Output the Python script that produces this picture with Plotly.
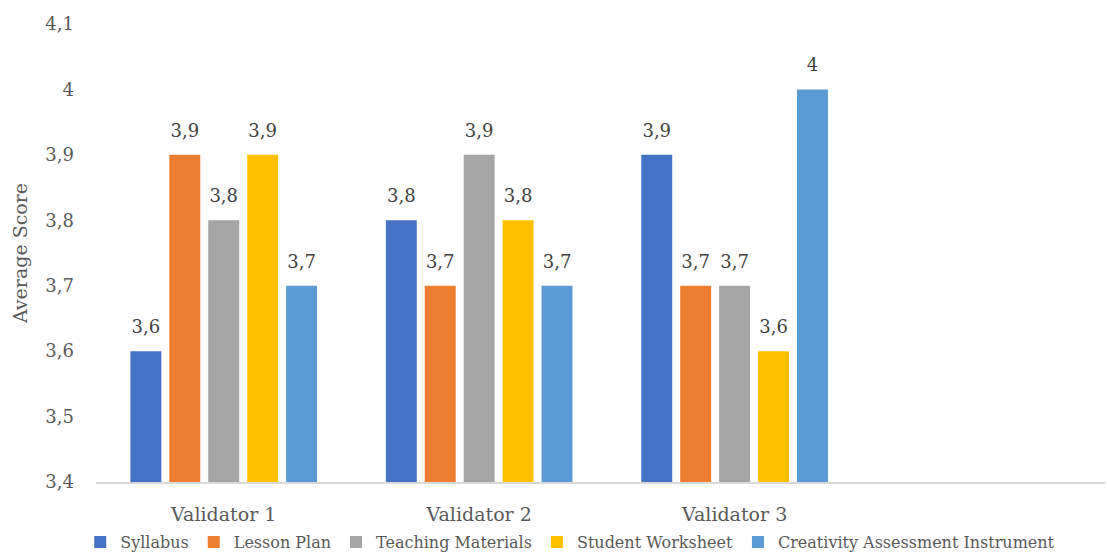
import plotly.graph_objects as go

categories = ["Validator 1", "Validator 2", "Validator 3"]
series_names = ["Syllabus", "Lesson Plan", "Teaching Materials", "Student Worksheet",
                "Creativity Assessment Instrument"]
syllabus = [3.6, 3.8, 3.9]
lesson_plan = [3.9, 3.7, 3.7]
teaching_materials = [3.8, 3.9, 3.7]
student_worksheet = [3.9, 3.8, 3.6]
creativity_instrument = [3.7, 3.7, 4.0]
colors = ["#4472C4", "#ED7D31", "#A5A5A5", "#FFC000", "#5B9BD5"]
y_ticks = [3.4, 3.5, 3.6, 3.7, 3.8, 3.9, 4.0, 4.1]

FONT = "Palatino Linotype, Book Antiqua, Palatino, DejaVu Serif"

fig = go.Figure()
for name, vals, c in zip(series_names,
                         [syllabus, lesson_plan, teaching_materials, student_worksheet, creativity_instrument],
                         colors):
    fig.add_trace(go.Bar(
        x=categories, y=vals, name=name, marker=dict(color=c, line=dict(width=0)),
        texttemplate="<span style='font-size:18px'>%{y}</span><br> ",
        textposition="outside", cliponaxis=False,
        textfont=dict(family=FONT, size=10, color="#404040"),
    ))

fig.update_layout(
    width=1107, height=559,
    margin=dict(l=96, r=2, t=24, b=77, autoexpand=False),
    paper_bgcolor="white", plot_bgcolor="white",
    barmode="group", bargap=0.238, bargroupgap=0.205,
    separators=", ",
    font=dict(family=FONT, size=18, color="#595959"),
    showlegend=True,
    legend=dict(orientation="h", x=0.47, xanchor="center", yref="container", y=-0.009,
                yanchor="bottom", bgcolor="rgba(0,0,0,0)",
                font=dict(family=FONT, size=16, color="#595959"),
                itemwidth=30, tracegroupgap=0, traceorder="normal"),
)
fig.update_xaxes(
    type="category", categoryorder="array", categoryarray=categories,
    range=[-0.5, 3.45], showline=True, linecolor="#D9D9D9", linewidth=1.5,
    ticks="", showgrid=False, ticklabelstandoff=14, automargin=False,
    tickfont=dict(family=FONT, size=19, color="#595959"),
)
fig.update_yaxes(
    range=[3.4, 4.1], tickvals=y_ticks, showgrid=False, zeroline=False, showline=False,
    ticks="", ticklabelstandoff=21, automargin=False,
    tickfont=dict(family=FONT, size=18, color="#595959"),
    title=dict(text="Average Score", font=dict(family=FONT, size=19, color="#595959"), standoff=12),
)

fig.write_html("out.html")
